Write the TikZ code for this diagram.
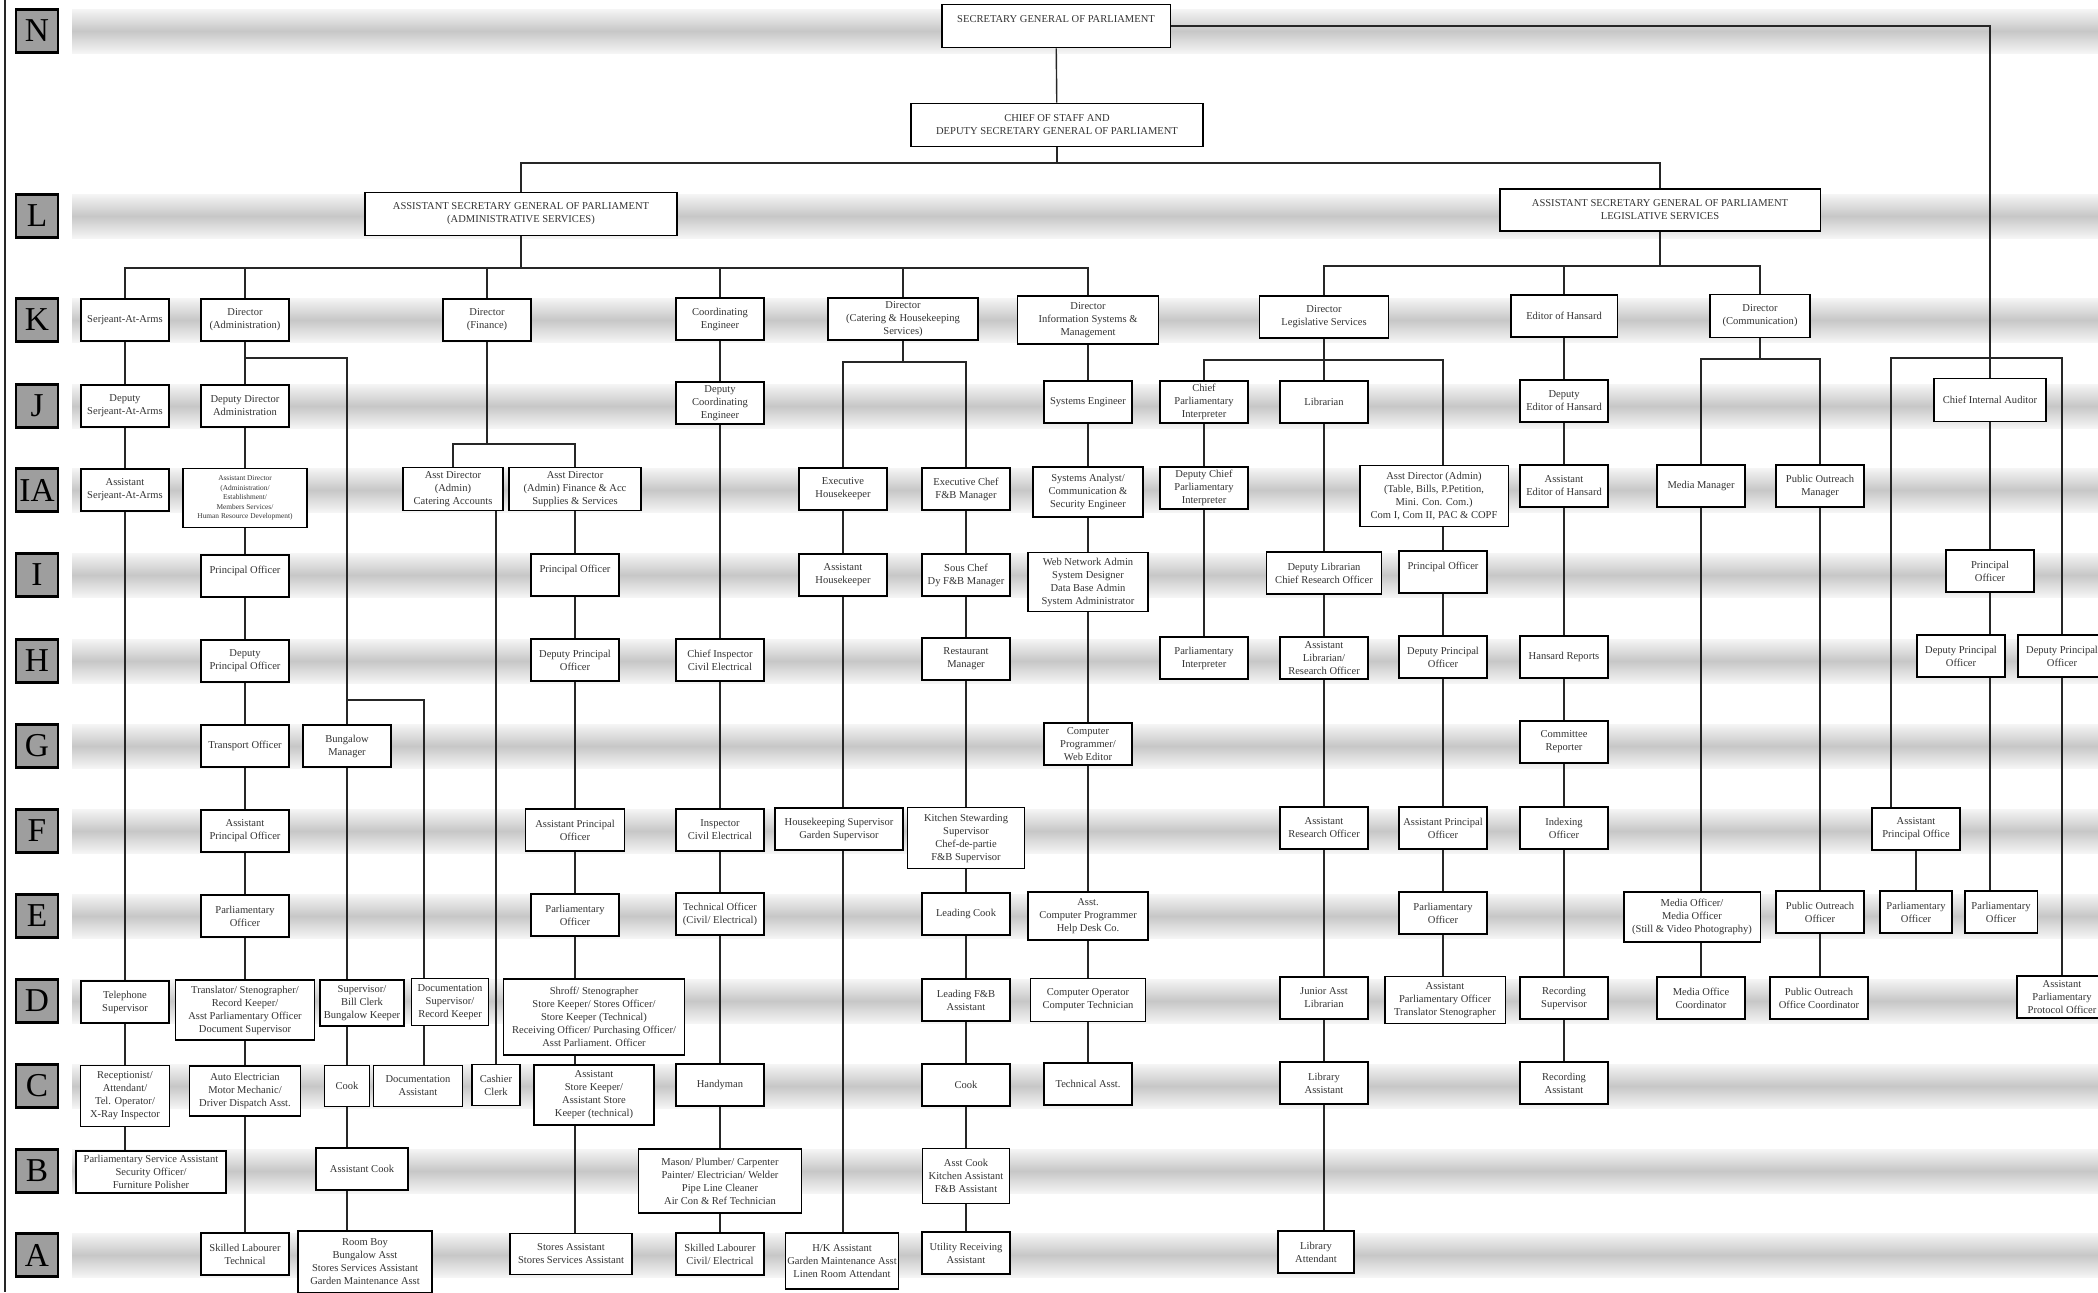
\documentclass[tikz,border=0pt]{standalone}
\usepackage{fontspec}
\setmainfont{Liberation Serif}
\usetikzlibrary{positioning,backgrounds,calc}
\newcommand{\postfont}{\fontsize{6}{7.4}\selectfont}
\newcommand{\tinyfont}{\fontsize{4.2}{5.4}\selectfont}
\tikzset{
  post/.style ={draw=black,line width=1.1pt,fill=white,align=center,inner sep=1pt,
                font=\postfont,text=black!80},
  std/.style  ={post,minimum width=1.76cm,minimum height=0.84cm},
  band/.style ={top color=black!4,bottom color=black!4,middle color=black!22},
  lvl/.style  ={draw=black,line width=1.2pt,fill=black!38,minimum width=0.84cm,
                minimum height=0.86cm,inner sep=0pt,font=\fontsize{19}{19}\selectfont},
  wire/.style ={line width=0.8pt,black!85},
}

\begin{document}
\begin{tikzpicture}[x=0.02cm,y=-0.02cm]
 \useasboundingbox (0,0) rectangle (2098,1292);
 \draw[wire] (5,0) -- (5,1292);
 % grade letters
 \foreach \lettr/\yr in {N/31,L/216,K/320,J/406,IA/490,I/575,H/661,G/746,F/831,E/916,D/1001,C/1086,B/1171,A/1255}
   \node[lvl] (lv\lettr) at (37,\yr) {\lettr};
 % top
 \node[post,minimum width=4.58cm,minimum height=0.86cm] (sg) at (1056,26) {SECRETARY GENERAL OF PARLIAMENT\\~};
 \node[post,minimum width=5.84cm,minimum height=0.86cm] (cos) at (1057,125) {CHIEF OF STAFF AND\\DEPUTY SECRETARY GENERAL OF PARLIAMENT};
 \node[post,minimum width=6.24cm,minimum height=0.86cm] (asga) at (521,214) {ASSISTANT SECRETARY GENERAL OF PARLIAMENT\\(ADMINISTRATIVE SERVICES)};
 \node[post,minimum width=6.42cm,minimum height=0.84cm] (asgl) at (1660,210) {ASSISTANT SECRETARY GENERAL OF PARLIAMENT\\LEGISLATIVE SERVICES};
 % K
 \node[std] (sa) at (125,320) {Serjeant-At-Arms};
 \node[std] (da) at (245,320) {Director\\(Administration)};
 \node[std] (df) at (487,320) {Director\\(Finance)};
 \node[std] (ce) at (720,319) {Coordinating\\Engineer};
 \node[post,minimum width=3cm,minimum height=0.84cm] (dc) at (903,319) {Director\\(Catering \& Housekeeping\\Services)};
 \node[post,minimum width=2.82cm,minimum height=0.96cm] (di) at (1088,320) {Director\\Information Systems \&\\Management};
 \node[post,minimum width=2.58cm,minimum height=0.84cm] (dl) at (1324,317) {Director\\Legislative Services};
 \node[post,minimum width=2.14cm,minimum height=0.84cm] (eh) at (1564,316) {Editor of Hansard};
 \node[post,minimum width=2cm,minimum height=0.86cm] (dcm) at (1760,316) {Director\\(Communication)};
 % J
 \node[std] (dsa) at (125,406) {Deputy\\Serjeant-At-Arms};
 \node[std] (dda) at (245,406) {Deputy Director\\Administration};
 \node[std] (dce) at (720,403) {Deputy\\Coordinating\\Engineer};
 \node[std] (se) at (1088,402) {Systems Engineer};
 \node[std] (cpi) at (1204,402) {Chief\\Parliamentary\\Interpreter};
 \node[std] (lib) at (1324,402) {Librarian};
 \node[std] (deh) at (1564,401) {Deputy\\Editor of Hansard};
 \node[post,minimum width=2.24cm,minimum height=0.86cm] (cia) at (1990,400) {Chief Internal Auditor};
 % IA
 \node[std] (asa) at (125,490) {Assistant\\Serjeant-At-Arms};
 \node[post,minimum width=2.48cm,minimum height=1.18cm,font=\tinyfont] (adad) at (245,498) {Assistant Director\\(Administration/\\Establishment/\\Members Services/\\Human Resource Development)};
 \node[post,minimum width=2cm,minimum height=0.86cm] (adca) at (453,489) {Asst Director\\(Admin)\\Catering Accounts};
 \node[post,minimum width=2.64cm,minimum height=0.86cm] (adfa) at (575,489) {Asst Director\\(Admin) Finance \& Acc\\Supplies \& Services};
 \node[std] (exh) at (843,489) {Executive\\Housekeeper};
 \node[std] (ecf) at (966,489) {Executive Chef\\F\&B Manager};
 \node[post,minimum width=2.2cm,minimum height=1cm] (sysa) at (1088,492) {Systems Analyst/\\Communication \&\\Security Engineer};
 \node[std] (dcpi) at (1204,488) {Deputy Chief\\Parliamentary\\Interpreter};
 \node[post,minimum width=2.98cm,minimum height=1.22cm] (ada2) at (1434,496) {Asst Director (Admin)\\(Table, Bills, P.Petition,\\Mini. Con. Com.)\\Com I, Com II, PAC \& COPF};
 \node[std] (aeh) at (1564,486) {Assistant\\Editor of Hansard};
 \node[std] (mm) at (1701,486) {Media Manager};
 \node[std] (pom) at (1820,486) {Public Outreach\\Manager};
 % I
 \node[std] (po1) at (245,576) {Principal Officer\\~};
 \node[std] (po2) at (575,575) {Principal Officer\\~};
 \node[std] (ahk) at (843,575) {Assistant\\Housekeeper};
 \node[std] (scf) at (966,575) {Sous Chef\\Dy F\&B Manager};
 \node[post,minimum width=2.4cm,minimum height=1.18cm] (wna) at (1088,582) {Web Network Admin\\System Designer\\Data Base Admin\\System Administrator};
 \node[post,minimum width=2.3cm,minimum height=0.84cm] (dlib) at (1324,573) {Deputy Librarian\\Chief Research Officer};
 \node[std] (po3) at (1443,572) {Principal Officer\\~};
 \node[std] (po4) at (1990,571) {Principal\\Officer};
 % H
 \node[std] (dpo1) at (245,661) {Deputy\\Principal Officer};
 \node[std] (dpo2) at (575,660) {Deputy Principal\\Officer};
 \node[std] (cin) at (720,660) {Chief Inspector\\Civil Electrical};
 \node[std] (rm) at (966,659) {Restaurant\\Manager};
 \node[std] (pint) at (1204,658) {Parliamentary\\Interpreter};
 \node[std] (alib) at (1324,658) {Assistant\\Librarian/\\Research Officer};
 \node[std] (dpo3) at (1443,657) {Deputy Principal\\Officer};
 \node[std] (hr) at (1564,657) {Hansard Reports};
 \node[std] (dpo4) at (1961,656) {Deputy Principal\\Officer};
 \node[std] (dpo5) at (2062,656) {Deputy Principal\\Officer};
 % G
 \node[std] (to) at (245,746) {Transport Officer};
 \node[std] (bm) at (347,746) {Bungalow\\Manager};
 \node[std] (cpw) at (1088,744) {Computer\\Programmer/\\Web Editor};
 \node[std] (cr) at (1564,742) {Committee\\Reporter};
 % F
 \node[std] (apo1) at (245,831) {Assistant\\Principal Officer};
 \node[post,minimum width=1.98cm,minimum height=0.84cm] (apo2) at (575,830) {Assistant Principal\\Officer};
 \node[std] (ins) at (720,830) {Inspector\\Civil Electrical};
 \node[post,minimum width=2.56cm,minimum height=0.84cm] (hks) at (839,829) {Housekeeping Supervisor\\Garden Supervisor};
 \node[post,minimum width=2.34cm,minimum height=1.22cm] (kss) at (966,838) {Kitchen Stewarding\\Supervisor\\Chef-de-partie\\F\&B Supervisor};
 \node[std] (aro) at (1324,828) {Assistant\\Research Officer};
 \node[std] (apo3) at (1443,828) {Assistant Principal\\Officer};
 \node[std] (io) at (1564,828) {Indexing\\Officer};
 \node[std] (apo4) at (1916,829) {Assistant\\Principal Office};
 % E
 \node[std] (pao1) at (245,916) {Parliamentary\\Officer};
 \node[std] (pao2) at (575,915) {Parliamentary\\Officer};
 \node[std] (tof) at (720,914) {Technical Officer\\(Civil/ Electrical)};
 \node[std] (lck) at (966,914) {Leading Cook};
 \node[post,minimum width=2.4cm,minimum height=0.96cm] (acp) at (1088,916) {Asst.\\Computer Programmer\\Help Desk Co.};
 \node[std] (pao3) at (1443,913) {Parliamentary\\Officer};
 \node[post,minimum width=2.74cm,minimum height=1cm] (mof) at (1692,917) {Media Officer/\\Media Officer\\(Still \& Video Photography)};
 \node[std] (poo) at (1820,912) {Public Outreach\\Officer};
 \node[post,minimum width=1.44cm,minimum height=0.84cm] (pao4) at (1916,912) {Parliamentary\\Officer};
 \node[post,minimum width=1.46cm,minimum height=0.84cm] (pao5) at (2001,912) {Parliamentary\\Officer};
 % D
 \node[std] (ts) at (125,1002) {Telephone\\Supervisor};
 \node[post,minimum width=2.78cm,minimum height=1.2cm] (tsk) at (245,1010) {Translator/ Stenographer/\\Record Keeper/\\Asst Parliamentary Officer\\Document Supervisor};
 \node[post,minimum width=1.68cm,minimum height=0.92cm] (sbk) at (362,1003) {Supervisor/\\Bill Clerk\\Bungalow Keeper};
 \node[post,minimum width=1.54cm,minimum height=0.94cm] (dsup) at (450,1002) {Documentation\\Supervisor/\\Record Keeper};
 \node[post,minimum width=3.62cm,minimum height=1.52cm] (shr) at (594,1017) {Shroff/ Stenographer\\Store Keeper/ Stores Officer/\\Store Keeper (Technical)\\Receiving Officer/ Purchasing Officer/\\Asst Parliament. Officer};
 \node[std] (lfb) at (966,1000) {Leading F\&B\\Assistant};
 \node[post,minimum width=2.3cm,minimum height=0.86cm] (cop) at (1088,1000) {Computer Operator\\Computer Technician};
 \node[std] (jal) at (1324,998) {Junior Asst\\Librarian};
 \node[post,minimum width=2.42cm,minimum height=0.94cm] (apts) at (1445,1000) {Assistant\\Parliamentary Officer\\Translator Stenographer};
 \node[std] (rsup) at (1564,998) {Recording\\Supervisor};
 \node[std] (moc) at (1701,998) {Media Office\\Coordinator};
 \node[post,minimum width=1.96cm,minimum height=0.84cm] (pooc) at (1819,998) {Public Outreach\\Office Coordinator};
 \node[post,minimum width=1.8cm,minimum height=0.84cm] (appo) at (2062,997) {Assistant\\Parliamentary\\Protocol Officer};
 % C
 \node[post,minimum width=1.78cm,minimum height=1.22cm] (rec) at (125,1096) {Receptionist/\\Attendant/\\Tel. Operator/\\X-Ray Inspector};
 \node[post,minimum width=2.22cm,minimum height=1cm] (aem) at (245,1091) {Auto Electrician\\Motor Mechanic/\\Driver Dispatch Asst.};
 \node[post,minimum width=0.9cm,minimum height=0.82cm] (ck1) at (347,1086) {Cook};
 \node[post,minimum width=1.78cm,minimum height=0.82cm] (das) at (418,1086) {Documentation\\Assistant};
 \node[post,minimum width=0.96cm,minimum height=0.82cm] (cc) at (496,1085) {Cashier\\Clerk};
 \node[post,minimum width=2.4cm,minimum height=1.2cm] (ask) at (594,1095) {Assistant\\Store Keeper/\\Assistant Store\\Keeper (technical)};
 \node[std] (hdm) at (720,1085) {Handyman};
 \node[std] (ck2) at (966,1085) {Cook};
 \node[std] (tas) at (1088,1084) {Technical Asst.};
 \node[std] (las) at (1324,1083) {Library\\Assistant};
 \node[std] (ras) at (1564,1083) {Recording\\Assistant};
 % B
 \node[post,minimum width=3cm,minimum height=0.84cm] (psa) at (151,1172) {Parliamentary Service Assistant\\Security Officer/\\Furniture Polisher};
 \node[post,minimum width=1.84cm,minimum height=0.84cm] (acook) at (362,1169) {Assistant Cook};
 \node[post,minimum width=3.26cm,minimum height=1.28cm] (msn) at (720,1181) {Mason/ Plumber/ Carpenter\\Painter/ Electrician/ Welder\\Pipe Line Cleaner\\Air Con \& Ref Technician};
 \node[post,minimum width=1.74cm,minimum height=1.1cm] (akf) at (966,1176) {Asst Cook\\Kitchen Assistant\\F\&B Assistant};
 % A
 \node[std] (slt) at (245,1254) {Skilled Labourer\\Technical};
 \node[post,minimum width=2.68cm,minimum height=1.24cm] (rb) at (365,1262) {Room Boy\\Bungalow Asst\\Stores Services Assistant\\Garden Maintenance Asst};
 \node[post,minimum width=2.44cm,minimum height=0.82cm] (sta) at (571,1254) {Stores Assistant\\Stores Services Assistant};
 \node[std] (slc) at (720,1254) {Skilled Labourer\\Civil/ Electrical};
 \node[post,minimum width=2.24cm,minimum height=1.12cm] (hka) at (842,1261) {H/K Assistant\\Garden Maintenance Asst\\Linen Room Attendant};
 \node[std] (ura) at (966,1253) {Utility Receiving\\Assistant};
 \node[post,minimum width=1.52cm,minimum height=0.84cm] (lat) at (1316,1252) {Library\\Attendant};

 \begin{scope}[on background layer]
  % grade bands
  \foreach \yr in {31,216,320,406,490,575,661,746,831,916,1001,1086,1171,1255}
    \shade[band] (72,{\yr-22}) rectangle (2098,{\yr+22});
  % top levels
  \coordinate (topbus) at (1057,163);
  \draw[wire] (sg) -- (cos);
  \draw[wire] (cos) -- (topbus);
  \draw[wire] (asga.north) |- (topbus) -| (asgl.north);
  % administrative services
  \coordinate (admbus) at (521,268);
  \draw[wire] (asga) -- (admbus);
  \draw[wire] (sa.north) |- (admbus) -| (di.north);
  \foreach \n in {da,df,ce,dc}
    \draw[wire] (\n.north) -- (\n.north |- admbus);
  \draw[wire] (sa.south) -- (sa.south |- psa.north);
  \draw[wire] (da.south) -- (slt.north);
  \coordinate (bglbus) at (347,358);
  \draw[wire] (da.south |- bglbus) -- (bglbus) -- (bglbus |- rb.north);
  \coordinate (docbus) at (424,700);
  \draw[wire] (bglbus |- docbus) -- (docbus) -- (docbus |- das.north);
  \coordinate (finbus) at (487,444);
  \draw[wire] (df) -- (finbus);
  \draw[wire] (adca.north) |- (finbus) -| (adfa.north);
  \draw[wire] (adca.south -| cc.north) -- (cc.north);
  \draw[wire] (adfa.south) -- (adfa.south |- sta.north);
  \draw[wire] (ce.south) -- (slc.north);
  \coordinate (catbus) at (903,362);
  \draw[wire] (dc) -- (catbus);
  \draw[wire] (exh.north) |- (catbus) -| (ecf.north);
  \draw[wire] (exh.south) -- (exh.south |- hka.north);
  \draw[wire] (ecf.south) -- (ura.north);
  \draw[wire] (di.south) -- (tas.north);
  % legislative services
  \coordinate (legbus) at (1660,266);
  \draw[wire] (asgl) -- (legbus);
  \draw[wire] (dl.north) |- (legbus) -| (dcm.north);
  \draw[wire] (eh.north) -- (eh.north |- legbus);
  \coordinate (lsbus) at (1443,360);
  \draw[wire] (dl.south) -- (lib.north);
  \draw[wire] (cpi.north) |- (lsbus) -- (lsbus |- apts.north);
  \draw[wire] (cpi.south) -- (pint.north);
  \draw[wire] (lib.south) -- (lib.south |- lat.north);
  \draw[wire] (eh.south) -- (ras.north);
  \coordinate (combus) at (1760,359);
  \draw[wire] (dcm) -- (combus);
  \draw[wire] (mm.north) |- (combus) -| (pom.north);
  \draw[wire] (mm.south) -- (moc.north);
  \draw[wire] (pom.south) -- (pom.south |- pooc.north);
  % internal audit
  \draw[wire] (sg.east) -| (cia.north);
  \draw[wire] (cia.south) -- (cia.south |- pao5.north);
  \coordinate (audbus) at (1891,358);
  \draw[wire] (audbus |- apo4.north) -- (audbus) -| (dpo5.north);
  \draw[wire] (apo4.south) -- (pao4.north);
  \draw[wire] (dpo5.south) -- (appo.north);
 \end{scope}
\end{tikzpicture}
\end{document}
